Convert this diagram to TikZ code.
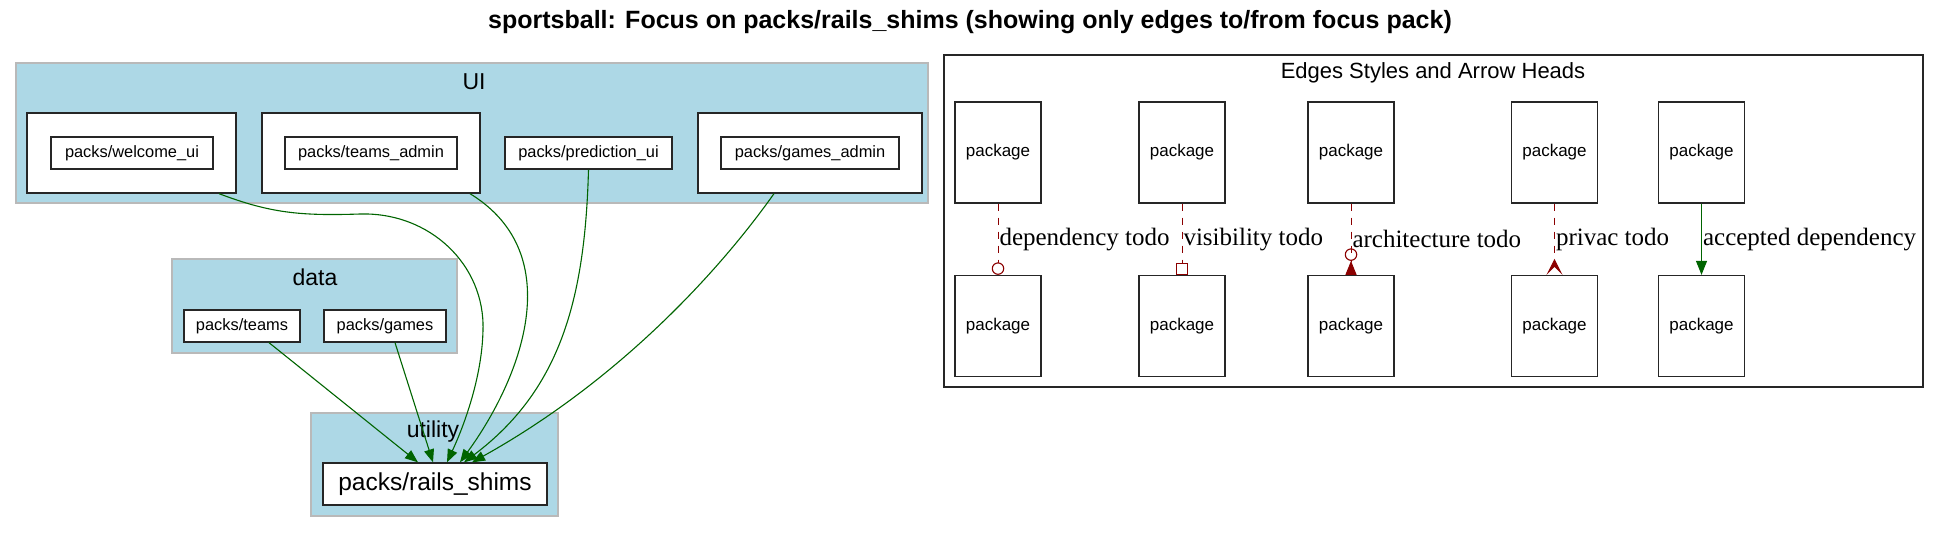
\documentclass[tikz,border=0pt]{standalone}
\usepackage{fontspec}
\setmainfont{Liberation Sans}
\newfontfamily\edgefont{Liberation Serif}
\usetikzlibrary{arrows.meta}
\definecolor{clusterblue}{RGB}{173,216,230}
\definecolor{depgreen}{RGB}{0,100,0}
\definecolor{todored}{RGB}{139,0,0}
\newcommand{\fsz}[1]{\fontsize{#1}{#1}\selectfont}

\begin{document}
\begin{tikzpicture}[x=1pt,y=-1pt,
  cluster/.style={draw=gray!55,fill=clusterblue,line width=1.3pt,inner sep=0pt},
  packwrap/.style={draw=black!85,fill=white,line width=1.3pt,minimum height=80pt,inner sep=0pt},
  pack/.style={draw=black!85,fill=white,line width=1.3pt,minimum height=32pt,inner sep=0pt,
    font=\fsz{16.4pt}},
  clabel/.style={inner sep=0pt,font=\fsz{23pt}},
  legpkg/.style={draw=black!85,fill=white,line width=1.3pt,minimum width=86pt,minimum height=101pt,
    inner sep=0pt,font=\fsz{17pt}},
  arr/.style={-{Triangle[length=13pt,width=10pt]},depgreen,line width=1.1pt},
  todo/.style={todored,line width=1pt,dash pattern=on 7pt off 7pt},
  elabel/.style={pos=0.5,anchor=west,inner sep=1pt,text=black,font=\edgefont\fsz{25pt}}
]
\useasboundingbox (0,0) rectangle (1940,533);

\node[font=\bfseries\fsz{25pt}] (title) at (970,22)
  {sportsball: Focus on packs/rails\_shims (showing only edges to/from focus pack)};

% UI cluster
\node[cluster,minimum width=912pt,minimum height=140pt] (ui) at (472,133) {};
\node[clabel] (uilabel) at (474,82) {UI};
\node[packwrap,minimum width=209pt] (welcomebox) at (131.5,153) {};
\node[pack,minimum width=162pt] (welcome) at (132,153) {packs/welcome\_ui};
\node[packwrap,minimum width=218pt] (teamsadminbox) at (371,153) {};
\node[pack,minimum width=172pt] (teamsadmin) at (371,153) {packs/teams\_admin};
\node[pack,minimum width=167pt] (prediction) at (588.5,153) {packs/prediction\_ui};
\node[packwrap,minimum width=224pt] (gamesadminbox) at (810,153) {};
\node[pack,minimum width=178pt] (gamesadmin) at (810,153) {packs/games\_admin};

% data cluster
\node[cluster,minimum width=285pt,minimum height=94pt] (data) at (314.5,306) {};
\node[clabel] (datalabel) at (315,277) {data};
\node[pack,minimum width=116pt] (teams) at (242,326) {packs/teams};
\node[pack,minimum width=122pt] (games) at (385,326) {packs/games};

% utility cluster
\node[cluster,minimum width=247pt,minimum height=103pt] (utility) at (434.5,464.5) {};
\node[clabel] (utilitylabel) at (433,432) {utility};
\node[pack,minimum width=224pt,minimum height=42pt,font=\fsz{24.5pt}] (rails) at (435,484)
  {packs/rails\_shims};

% edges into the focus pack
\draw[arr] ([xshift=27pt]teams.south) -- ([xshift=-17pt]rails.north);
\draw[arr] ([xshift=10pt]games.south) -- ([xshift=-2pt]rails.north);
\draw[arr] ([xshift=87.5pt]welcomebox.south) .. controls (270,213) and (300,216) .. (360,214)
  .. controls (430,212) and (485,265) .. (483,330)
  .. controls (482,380) and (462,430) .. ([xshift=12pt]rails.north);
\draw[arr] ([xshift=99pt]teamsadminbox.south) .. controls (570,255) and (520,380)
  .. ([xshift=25pt]rails.north);
\draw[arr] (prediction.south) .. controls (585,300) and (560,390) .. ([xshift=29pt]rails.north);
\draw[arr] ([xshift=-36pt]gamesadminbox.south) .. controls (720,270) and (620,380)
  .. ([xshift=37pt]rails.north);

% legend
\node[draw=black!85,fill=white,line width=1.3pt,minimum width=979pt,minimum height=332pt,
  inner sep=0pt] (legend) at (1433.5,221) {};
\node[inner sep=0pt,font=\fsz{22pt}] (legendtitle) at (1433,73) {Edges Styles and Arrow Heads};
\foreach \i/\x in {1/998,2/1182,3/1351,4/1554.5,5/1701.5} {
  \node[legpkg] (top\i) at (\x,152.5) {package};
  \node[legpkg] (bot\i) at (\x,326) {package};
}
\draw[todo,-{Circle[open,length=12.5pt,line width=1.1pt]}] (top1) -- (bot1)
  node[elabel] {dependency todo};
\draw[todo,-{Square[open,length=12pt,line width=1.1pt]}] (top2) -- (bot2)
  node[elabel] {visibility todo};
\draw[todo,-{Circle[open,length=12.5pt,line width=1.1pt]Triangle[reversed,length=14pt,width=11pt]}]
  (top3) -- (bot3) node[elabel] {architecture todo};
\draw[todo,-{Stealth[reversed,length=16pt,width=16pt,inset=8pt]}] (top4) -- (bot4)
  node[elabel] {privac todo};
\draw[arr,-{Triangle[length=14pt,width=11pt]}] (top5) -- (bot5)
  node[elabel] {accepted dependency};
\end{tikzpicture}
\end{document}
